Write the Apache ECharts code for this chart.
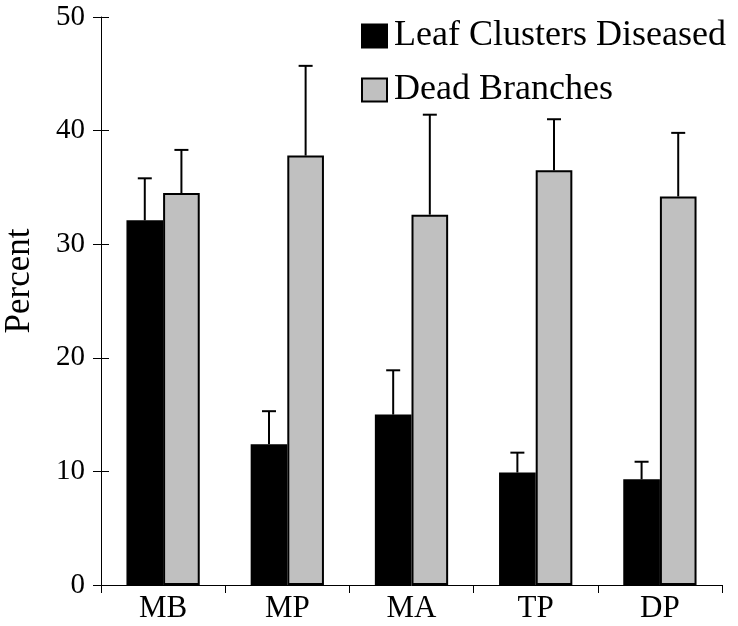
<!DOCTYPE html>
<html>
<head>
<meta charset="utf-8">
<script src="https://cdn.jsdelivr.net/npm/echarts@6/dist/echarts.min.js"></script>
<style>html,body{margin:0;padding:0;background:#fff}#c{width:738px;height:626px}</style>
</head>
<body>
<div id="c"></div>
<script>
var categories = ['MB', 'MP', 'MA', 'TP', 'DP'];
var leafValues = [32.1, 12.4, 15.0, 9.9, 9.3];
var leafErrors = [3.7, 2.9, 3.9, 1.75, 1.55];
var deadValues = [34.5, 37.8, 32.6, 36.5, 34.2];
var deadErrors = [3.8, 7.9, 8.8, 4.5, 5.6];
var seriesNames = ['Leaf Clusters Diseased', 'Dead Branches'];
var yTicks = [0, 10, 20, 30, 40, 50];

var FONT = '"Liberation Serif", "Times New Roman", serif';
var CAT_GAP = 0.41;

function errorSeries(values, errors, idx) {
  var data = values.map(function (v, i) { return [i, v, errors[i]]; });
  return {
    type: 'custom',
    z: 5,
    silent: true,
    data: data,
    renderItem: function (params, api) {
      var i = api.value(0), v = api.value(1), e = api.value(2);
      var catW = api.size([1, 0])[0];
      var barW = catW * (1 - CAT_GAP) / 2;
      var base = api.coord([i, v]);
      var top = api.coord([i, v + e]);
      var x = base[0] + (idx === 0 ? -barW / 2 : barW / 2);
      var capHalf = 7;
      return {
        type: 'group',
        children: [
          { type: 'line', shape: { x1: x, y1: base[1], x2: x, y2: top[1] }, style: { stroke: '#000', lineWidth: 2 } },
          { type: 'line', shape: { x1: x - capHalf, y1: top[1], x2: x + capHalf, y2: top[1] }, style: { stroke: '#000', lineWidth: 2 } }
        ]
      };
    }
  };
}

var chart = echarts.init(document.getElementById('c'), null, { renderer: 'canvas' });
chart.setOption({
  animation: false,
  backgroundColor: '#fff',
  textStyle: { fontFamily: FONT, color: '#000' },
  grid: { left: 101, right: 16, top: 17, bottom: 41, containLabel: false },
  legend: {
    orient: 'vertical',
    left: 356,
    top: 13,
    itemWidth: 25,
    itemHeight: 23,
    itemGap: 18,
    icon: 'rect',
    selectedMode: false,
    data: seriesNames,
    textStyle: { fontFamily: FONT, fontSize: 36, color: '#000', lineHeight: 32, padding: [0, 0, 0, 2] }
  },
  graphic: [{
    type: 'text',
    x: 20, y: 281,
    rotation: Math.PI / 2,
    style: { text: 'Percent', font: '35px ' + FONT, fill: '#000', align: 'center', verticalAlign: 'middle' }
  }],
  xAxis: {
    type: 'category',
    data: categories,
    boundaryGap: true,
    axisLine: { show: true, lineStyle: { color: '#000', width: 1 } },
    axisTick: { show: true, length: 8, inside: false, lineStyle: { color: '#000', width: 1 } },
    axisLabel: { fontFamily: FONT, fontSize: 31, color: '#000', margin: 8 },
    splitLine: { show: false }
  },
  yAxis: [{
    type: 'value',
    min: yTicks[0], max: yTicks[yTicks.length - 1], interval: 10,
    axisLine: { show: true, lineStyle: { color: '#000', width: 1 } },
    axisTick: { show: true, length: 8, inside: false, lineStyle: { color: '#000', width: 1 } },
    axisLabel: { fontFamily: FONT, fontSize: 29, color: '#000', margin: 16 },
    splitLine: { show: false }
  }, {
    type: 'value',
    position: 'left',
    min: yTicks[0], max: yTicks[yTicks.length - 1], interval: 10,
    axisLine: { show: false },
    axisTick: { show: true, length: 8, inside: true, lineStyle: { color: '#000', width: 1 } },
    axisLabel: { show: false },
    splitLine: { show: false }
  }],
  series: [{
    name: seriesNames[0],
    type: 'bar',
    data: leafValues,
    barGap: '0%',
    barCategoryGap: (CAT_GAP * 100) + '%',
    itemStyle: { color: '#000', borderColor: '#000', borderWidth: 1.5 }
  }, {
    name: seriesNames[1],
    type: 'bar',
    data: deadValues,
    barGap: '0%',
    barCategoryGap: (CAT_GAP * 100) + '%',
    itemStyle: { color: '#c0c0c0', borderColor: '#000', borderWidth: 2 }
  },
  errorSeries(leafValues, leafErrors, 0),
  errorSeries(deadValues, deadErrors, 1)]
});
</script>
</body>
</html>
